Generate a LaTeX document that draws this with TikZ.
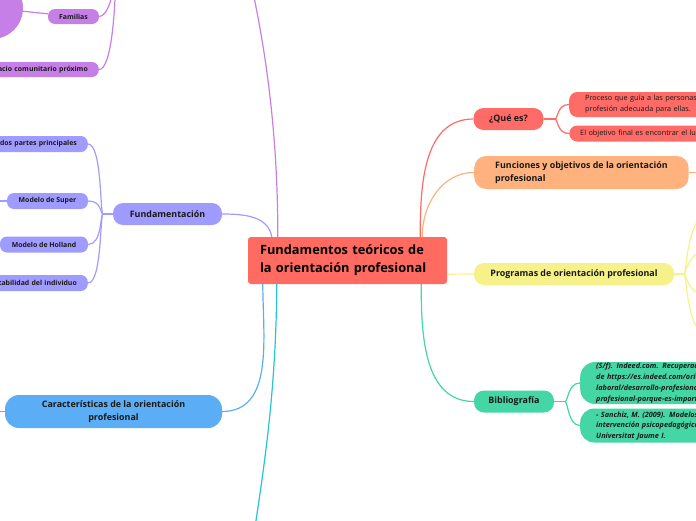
\documentclass[tikz,border=0pt]{standalone}
\usepackage{fontspec}
\setmainfont{Open Sans}
\usetikzlibrary{calc}
\definecolor{centc}{HTML}{FF6B61}
\definecolor{purp}{HTML}{C77FE8}
\definecolor{lav}{HTML}{A09CFF}
\definecolor{sky}{HTML}{5BAEF5}
\definecolor{cyanl}{HTML}{22C6D6}
\definecolor{coral}{HTML}{FF6B66}
\definecolor{peach}{HTML}{FFB27D}
\definecolor{lemon}{HTML}{F7F18A}
\definecolor{mint}{HTML}{45D6A6}
\tikzset{
 topic/.style={rounded corners=10pt,font=\bfseries\fontsize{8.9}{13.5}\selectfont,inner xsep=8pt,inner ysep=0pt,text=black!90},
 leaf/.style={rounded corners=7pt,font=\bfseries\fontsize{6.9}{8}\selectfont,inner xsep=11pt,inner ysep=0pt,minimum height=16pt,text=black!90},
 note/.style={rounded corners=8pt,font=\fontsize{7.3}{11}\selectfont,inner ysep=0pt,align=left,text=black!90},
 link/.style={line width=1.2pt}
}

\begin{document}
\begin{tikzpicture}[x=1pt,y=-1pt]
\useasboundingbox (0,0) rectangle (696,520);
\clip (0,0) rectangle (696,520);

\node[fill=centc,rounded corners=3pt,text width=175pt,inner xsep=12pt,minimum height=47pt,align=left,font=\bfseries\fontsize{12.8}{18}\selectfont] (cent) at (347.5,260.5) {Fundamentos teóricos de\\la orientación profesional};

% left
\node[circle,fill=purp,minimum size=62pt,inner sep=0pt] (circ) at (-8,8) {};
\node[leaf,fill=purp,minimum width=51pt,minimum height=15pt] (fam) at (73.5,16.5) {Familias};
\node[leaf,fill=purp,anchor=east,text width=130pt,align=right,minimum height=15pt] (esp) at (99,69.5) {Espacio comunitario próximo};
\coordinate (pj) at (116,-45);
\coordinate (ptop) at (248,-30);
\draw[purp,link] (circ) -- (fam);
\draw[purp,link] (fam.east) .. controls +(8,0) and +(0,40) .. (pj);
\draw[purp,link] (esp.east) .. controls +(12,0) and +(0,60) .. (pj);
\draw[purp,link] ($(cent.north west)+(30,0)$) .. controls (278,120) and (262,30) .. (ptop);

\node[topic,fill=lav,minimum width=109pt,minimum height=22pt] (fund) at (167.5,214) {Fundamentación};
\node[leaf,fill=lav,anchor=east,text width=110pt,align=right] (dos) at (88,144) {dos partes principales};
\node[leaf,fill=lav,minimum width=81pt] (sup) at (47.5,201) {Modelo de Super};
\node[leaf,fill=lav,minimum width=88pt] (hol) at (44,244.5) {Modelo de Holland};
\node[leaf,fill=lav,anchor=east,text width=110pt,align=right] (est) at (88,283) {tabilidad del individuo};
\coordinate (fj) at (103,214);
\coordinate (supl) at (-10,201);
\draw[lav,link] ($(cent.north west)+(24,0)$) to[out=100,in=0] (fund.east);
\draw[lav,link] (fund.west) -- (fj);
\foreach \k in {dos,sup,hol,est}
 \draw[lav,link] (fj) .. controls +(-3,0) and +(14,0) .. (\k.east);
\draw[lav,link] (sup.west) -- (supl);

\node[topic,fill=sky,minimum width=217pt,minimum height=33pt,rounded corners=14pt,align=center] (car) at (113.5,411.5) {Características de la orientación\\profesional};
\coordinate (carl) at (-10,411.5);
\draw[sky,link] ($(cent.south west)+(15,0)$) to[out=-90,in=0] (car.east);
\draw[sky,link] (car.west) -- (carl);

\coordinate (cbot) at (250,560);
\draw[cyanl,link] ($(cent.south west)+(29,0)$) .. controls (276,400) and (262,480) .. (cbot);

% right
\node[topic,fill=coral,minimum width=70pt,minimum height=22pt] (que) at (508.5,119) {¿Qué es?};
\node[note,fill=coral,anchor=west,text width=170pt,inner xsep=16pt,minimum height=25pt] (pro) at (569,104.5) {Proceso que guía a las personas a encontrar la\\profesión adecuada para ellas.};
\node[note,fill=coral,anchor=west,text width=170pt,inner xsep=11pt,minimum height=16pt] (obj) at (569,133.5) {El objetivo final es encontrar el lugar};
\coordinate (qj) at (555,119);
\draw[coral,link] ($(cent.north east)+(-27,0)$) to[out=90,in=180] (que.west);
\draw[coral,link] (que.east) -- (qj);
\foreach \k in {pro,obj}
 \draw[coral,link] (qj) .. controls +(3,0) and +(-12,0) .. (\k.west);

\node[topic,fill=peach,anchor=west,inner xsep=21pt,minimum height=33pt,rounded corners=12pt,align=left] (fun) at (474,172.5) {Funciones y objetivos de la orientación\\profesional};
\coordinate (funr) at (710,172.5);
\draw[peach,link] ($(cent.north east)+(-25,0)$) to[out=90,in=180] (fun.west);
\draw[peach,link] (fun.east) -- (funr);

\node[topic,fill=lemon,minimum width=200pt,minimum height=22pt] (prog) at (574,274) {Programas de orientación profesional};
\coordinate (gj) at (684,274);
\draw[lemon,link] ($(cent.south east)+(0,-10)$) -- (prog.west);
\draw[lemon,link] (prog.east) -- (gj);
\foreach \y in {212,250,296,338}
 \draw[lemon,link] (gj) .. controls +(3,0) and +(-26,0) .. (712,\y);

\node[topic,fill=mint,minimum width=80pt,minimum height=22pt] (bib) at (514,401.5) {Bibliografía};
\node[note,fill=mint,anchor=west,text width=200pt,inner xsep=16pt,minimum height=42pt,rounded corners=15pt,font=\bfseries\itshape\fontsize{7.3}{11}\selectfont] (ref1) at (580,383) {(S/f). Indeed.com. Recuperado el\\de https://es.indeed.com/orientacion-\\laboral/desarrollo-profesional/orientacion-\\profesional-porque-es-importante};
\node[note,fill=mint,anchor=west,text width=200pt,inner xsep=16pt,minimum height=34pt,rounded corners=14pt,font=\bfseries\itshape\fontsize{7.3}{10.5}\selectfont] (ref2) at (580,425.5) {- Sanchiz, M. (2009). Modelos de orientación e\\intervención psicopedagógica. Publicacions de la\\Universitat Jaume I.};
\coordinate (bj) at (565,401.5);
\draw[mint,link] ($(cent.south east)+(-26,0)$) to[out=-90,in=180] (bib.west);
\draw[mint,link] (bib.east) -- (bj);
\foreach \k in {ref1,ref2}
 \draw[mint,link] (bj) .. controls +(3,0) and +(-12,0) .. (\k.west);
\end{tikzpicture}
\end{document}
